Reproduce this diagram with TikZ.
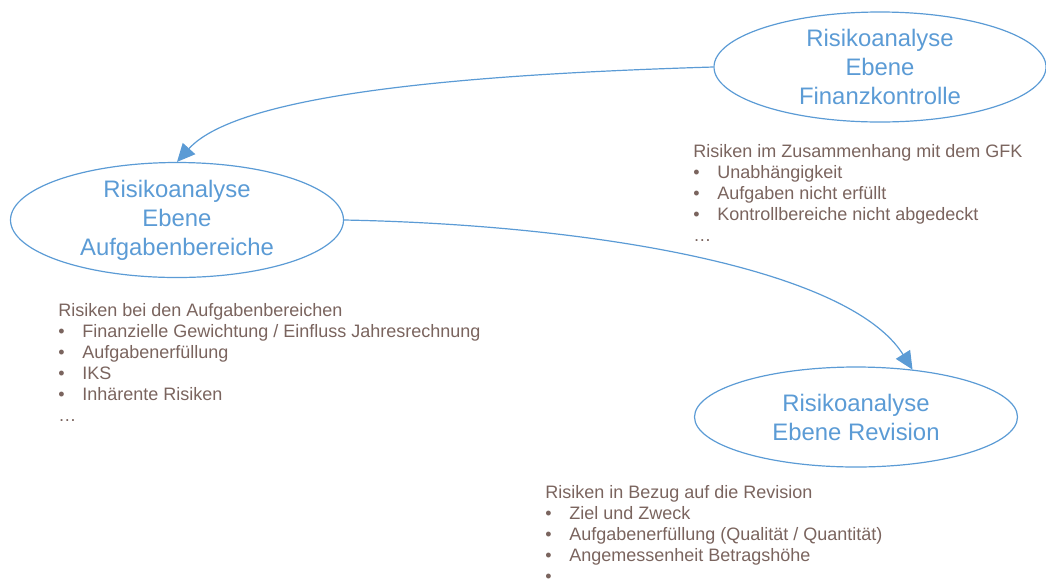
\documentclass[tikz,border=0pt]{standalone}
\usepackage{fontspec}
\setmainfont{Liberation Sans}
\usetikzlibrary{shapes.geometric,arrows.meta}
\definecolor{eblue}{RGB}{91,155,213}
\definecolor{tbrown}{RGB}{122,100,94}
\newcommand{\rbul}{\makebox[18pt][l]{•}}
\begin{document}
\begin{tikzpicture}[x=0.75pt,y=-0.75pt,
  bubble/.style={ellipse, draw=eblue, line width=0.9pt, inner sep=0pt},
  btext/.style={align=center, text=eblue, font=\fontsize{17.9}{21.75}\selectfont, inner sep=0pt},
  risk/.style={anchor=base west, inner sep=0pt, text=tbrown, font=\fontsize{13.5}{15.75}\selectfont},
  conn/.style={draw=eblue, line width=0.9pt, -{Triangle[length=13.5pt,width=12.5pt]}}]
\useasboundingbox (0,0) rectangle (1046,583);

% ellipses
\node[bubble, minimum width=249pt, minimum height=82.5pt] (TR) at (880,67) {};
\node[btext] (TRt) at (880,67) {Risikoanalyse\\Ebene\\Finanzkontrolle};

\node[bubble, minimum width=249.75pt, minimum height=86.25pt] (L) at (177,220) {};
\node[btext] (Lt) at (177,220) {Risikoanalyse\\Ebene\\Aufgabenbereiche};

\node[bubble, minimum width=242.25pt, minimum height=75pt] (R) at (856,417) {};
\node[btext] (Rt) at (856,417) {Risikoanalyse\\Ebene Revision};

% connectors
\draw[conn] (TR.west) .. controls (480,74) and (240,92) .. (L.north);
\draw[conn] (L.east) .. controls (600,225) and (850,270) .. (R.40);

% risk lists
\node[risk] (T1) at (693,157) {\begin{tabular}[t]{@{}l@{}}
Risiken im Zusammenhang mit dem GFK\\
\rbul Unabhängigkeit\\
\rbul Aufgaben nicht erfüllt\\
\rbul Kontrollbereiche nicht abgedeckt\\
…
\end{tabular}};

\node[risk] (T2) at (58,316) {\begin{tabular}[t]{@{}l@{}}
Risiken bei den Aufgabenbereichen\\
\rbul Finanzielle Gewichtung / Einfluss Jahresrechnung\\
\rbul Aufgabenerfüllung\\
\rbul IKS\\
\rbul Inhärente Risiken\\
…
\end{tabular}};

\node[risk] (T3) at (545,498) {\begin{tabular}[t]{@{}l@{}}
Risiken in Bezug auf die Revision\\
\rbul Ziel und Zweck\\
\rbul Aufgabenerfüllung (Qualität / Quantität)\\
\rbul Angemessenheit Betragshöhe\\
\rbul
\end{tabular}};
\end{tikzpicture}
\end{document}
